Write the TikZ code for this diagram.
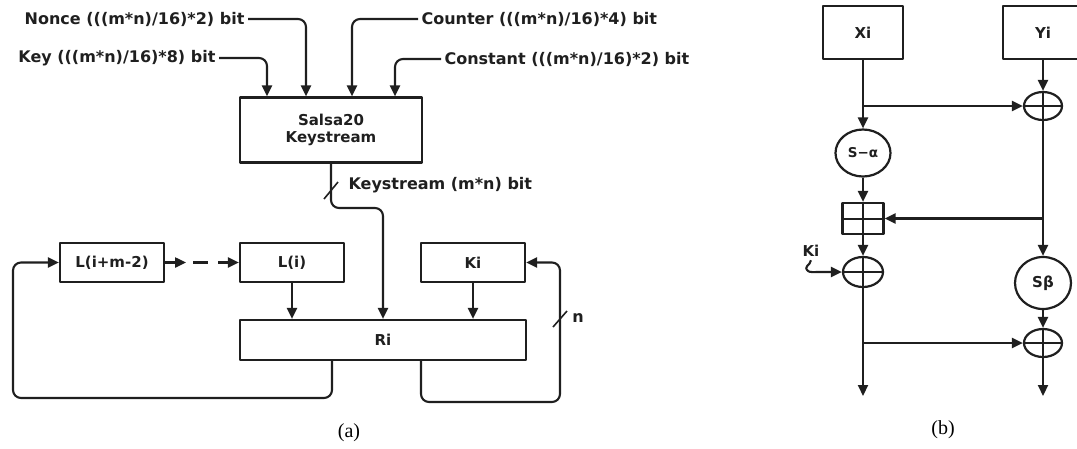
\documentclass[tikz,border=0pt]{standalone}
\usepackage{fontspec}
\setmainfont{DejaVu Sans}
\newfontfamily\capfont{Liberation Serif}
\usetikzlibrary{arrows.meta,shapes.geometric}
\colorlet{ink}{black!88}
\begin{document}
\begin{tikzpicture}[x=1pt,y=-1pt,line join=round,line width=2.1pt,
  every node/.style={text=ink,font=\bfseries\fontsize{15}{17.5}\selectfont},
  ln/.style={draw=ink,line width=2.1pt},
  blk/.style={draw=ink,line width=2.2pt,inner sep=0pt,align=center},
  lbl/.style={inner sep=2.5pt,font=\bfseries\fontsize{16}{18}\selectfont},
  arr/.style={ln,-{Triangle[length=11pt,width=10pt]},rounded corners=8pt},
  xorop/.style={draw=ink,ellipse,line width=2.2pt,inner sep=0pt,
    minimum width=38pt,minimum height=28pt,
    path picture={\draw[ink,line width=2pt]
      (path picture bounding box.west) -- (path picture bounding box.east)
      (path picture bounding box.north) -- (path picture bounding box.south);}},
  addop/.style={draw=ink,rectangle,line width=2.2pt,inner sep=0pt,
    minimum width=41pt,minimum height=31pt,
    path picture={\draw[ink,line width=2pt]
      (path picture bounding box.west) -- (path picture bounding box.east)
      (path picture bounding box.north) -- (path picture bounding box.south);}},
  sbox/.style={draw=ink,ellipse,line width=2.2pt,inner sep=0pt},
  captext/.style={font=\capfont\fontsize{20}{22}\selectfont,text=black}
]
\useasboundingbox (0,0) rectangle (1077,448);

% ---------------- (a) Salsa20 keystream and register ----------------
\node[blk,minimum width=182pt,minimum height=65pt] (salsa) at (331,130) {Salsa20\\Keystream};

\node[lbl,anchor=east] (nonce)    at (248,19) {Nonce (((m*n)/16)*2) bit};
\node[lbl,anchor=east] (key)      at (219,58) {Key (((m*n)/16)*8) bit};
\node[lbl,anchor=west] (counter)  at (418,19) {Counter (((m*n)/16)*4) bit};
\node[lbl,anchor=west] (constant) at (441,59) {Constant (((m*n)/16)*2) bit};

\draw[arr] (key.east)      -| ([xshift=-64pt]salsa.north);
\draw[arr] (nonce.east)    -| ([xshift=-25pt]salsa.north);
\draw[arr] (counter.west)  -| ([xshift=21pt]salsa.north);
\draw[arr] (constant.west) -| ([xshift=64pt]salsa.north);

\node[blk,minimum width=104pt,minimum height=39pt] (lm) at (112,262.5) {L(i+m-2)};
\node[blk,minimum width=104pt,minimum height=39pt] (li) at (292,262.5) {L(i)};
\node[blk,minimum width=104pt,minimum height=39pt] (ki) at (473,262.5) {Ki};
\node[blk,minimum width=286pt,minimum height=40pt] (ri) at (383,340) {Ri};

% keystream bus into Ri
\coordinate (kbend) at (331,208);
\draw[arr] (salsa.south) -- (kbend) -| (ri.north);
\draw[ln,line width=1.6pt] (324,199) -- (338,182);
\node[lbl,anchor=west] (kslabel) at (345,185) {Keystream (m*n) bit};

% register chain
\draw[arr] (lm.east) -- ([xshift=21pt]lm.east);
\draw[ln] ([xshift=28pt]lm.east) -- ([xshift=43pt]lm.east);
\draw[arr] ([xshift=53pt]lm.east) -- (li.west);

\draw[arr] (li.south) -- (li.south |- ri.north);
\draw[arr] (ki.south) -- (ki.south |- ri.north);

% feedback loops
\draw[arr] ([xshift=38pt]ri.south) |- (560,402) |- (ki.east);
\draw[ln,line width=1.6pt] (553,327) -- (567,311);
\node[lbl] (nlab) at (578,318) {n};
\draw[arr] ([xshift=-51pt]ri.south) |- (13,398) |- (lm.west);

\node[captext] (capa) at (349,433) {(a)};

% ---------------- (b) round function ----------------
\node[blk,minimum width=80pt,minimum height=53pt] (xi) at (863,32.5) {Xi};
\node[blk,minimum width=80pt,minimum height=53pt] (yi) at (1043,32.5) {Yi};
\node[xorop] (x1) at (1043,106) {};
\node[sbox,minimum width=55pt,minimum height=47pt,font=\bfseries\fontsize{13.5}{15}\selectfont] (sa) at (863,153) {S−α};
\node[addop] (ad) at (863,218.5) {};
\node[xorop,minimum width=40pt,minimum height=30pt] (x2) at (863,272) {};
\node[sbox,minimum width=56pt,minimum height=52pt] (sb) at (1043,283) {Sβ};
\node[xorop] (x3) at (1043,343) {};
\node[lbl,font=\bfseries\fontsize{15}{17}\selectfont] (kilab) at (811,251) {Ki};

\coordinate (br1) at (863,106);
\coordinate (br2) at (1043,218.5);
\coordinate (br3) at (863,343);
\coordinate (outl) at (863,396);
\coordinate (outr) at (1043,396);

\draw[arr] (xi.south) -- (sa.north);
\draw[arr] (br1) -- (x1.west);
\draw[arr] (yi.south) -- (x1.north);
\draw[arr] (x1.south) -- (sb.north);
\draw[arr] (br2) -- (ad.east);
\draw[arr] (sa.south) -- (ad.north);
\draw[arr] (ad.south) -- (x2.north);
\draw[arr,rounded corners=0pt] (kilab.south) .. controls (810,266) and (803,266) .. (808,271) .. controls (810,272.5) and (814,272) .. (818,272) -- (x2.west);
\draw[arr] (x2.south) -- (outl);
\draw[arr] (br3) -- (x3.west);
\draw[arr] (sb.south) -- (x3.north);
\draw[arr] (x3.south) -- (outr);

\node[captext] (capb) at (943,430) {(b)};
\end{tikzpicture}
\end{document}
